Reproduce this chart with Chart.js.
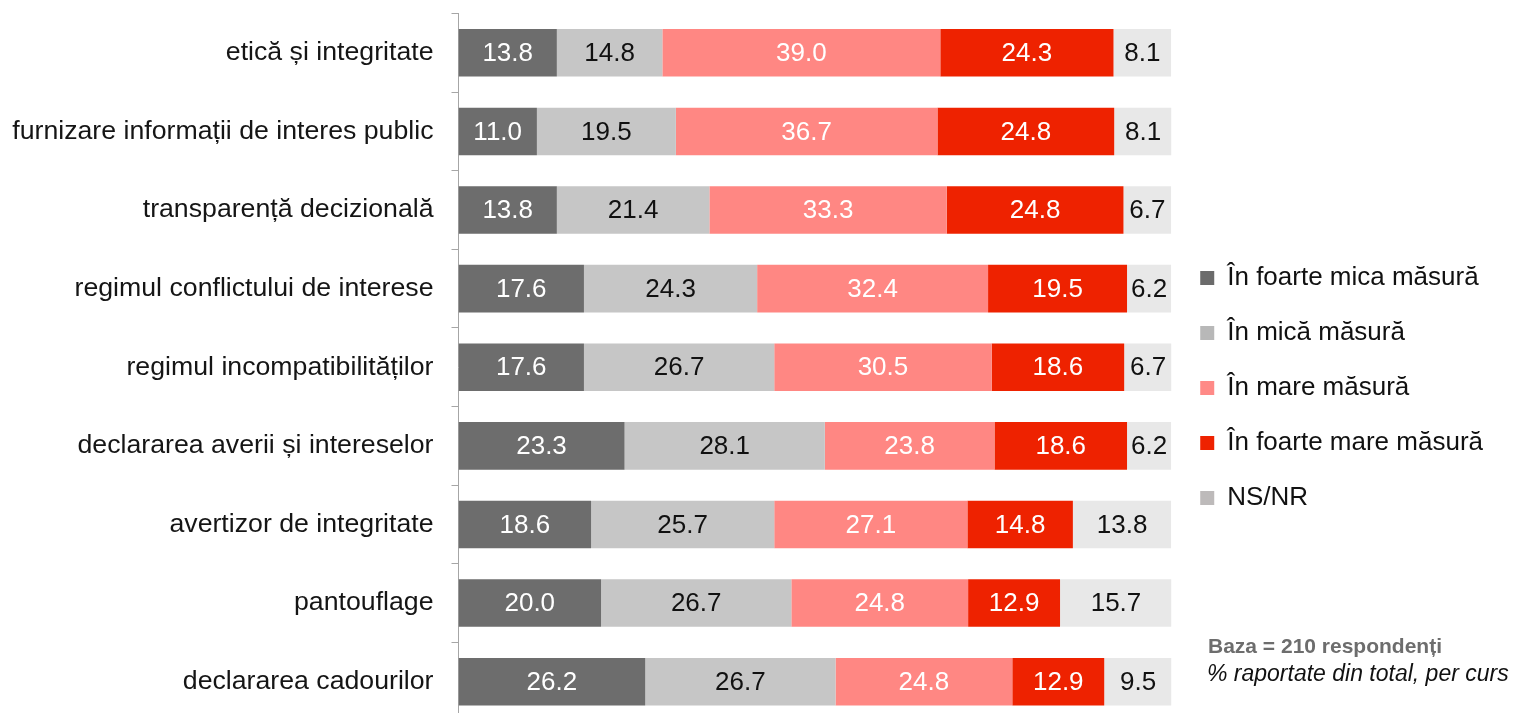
<!DOCTYPE html>
<html>
<head>
<meta charset="utf-8">
<script src="https://cdn.jsdelivr.net/npm/chart.js@4.4.0/dist/chart.umd.min.js"></script>
<style>
  body { margin: 0; background: #fff; overflow: hidden; }
</style>
</head>
<body>
<canvas id="mainChart" width="1519" height="721"></canvas>
<script>
// categories top to bottom
let categories = [
    "etică și integritate",
    "furnizare informații de interes public",
    "transparență decizională",
    "regimul conflictului de interese",
    "regimul incompatibilităților",
    "declararea averii și intereselor",
    "avertizor de integritate",
    "pantouflage",
    "declararea cadourilor"
];

let seriesNames = ["În foarte mica măsură", "În mică măsură", "În mare măsură", "În foarte mare măsură", "NS/NR"];

let veryLittle = [13.8, 11.0, 13.8, 17.6, 17.6, 23.3, 18.6, 20.0, 26.2];
let little     = [14.8, 19.5, 21.4, 24.3, 26.7, 28.1, 25.7, 26.7, 26.7];
let large      = [39.0, 36.7, 33.3, 32.4, 30.5, 23.8, 27.1, 24.8, 24.8];
let veryLarge  = [24.3, 24.8, 24.8, 19.5, 18.6, 18.6, 14.8, 12.9, 12.9];
let noAnswer   = [8.1, 8.1, 6.7, 6.2, 6.7, 6.2, 13.8, 15.7, 9.5];

let barColors    = ['#6d6d6d', '#c6c6c6', '#ff8783', '#ee2200', '#e8e8e8'];
let legendColors = ['#6b6b6b', '#b8b8b8', '#ff8a87', '#ee2200', '#bdbaba'];
let labelColors  = ['#ffffff', '#111111', '#ffffff', '#ffffff', '#111111'];

const FONT = "'Liberation Sans', Arial, sans-serif";

// writes the value in the middle of every segment
const valueLabels = {
    id: 'valueLabels',
    afterDatasetsDraw(chart) {
        const ctx = chart.ctx;
        ctx.save();
        ctx.font = "26px " + FONT;
        ctx.textAlign = 'center';
        ctx.textBaseline = 'middle';
        chart.data.datasets.forEach((ds, i) => {
            const meta = chart.getDatasetMeta(i);
            meta.data.forEach((bar, j) => {
                const p = bar.getProps(['x', 'y', 'base'], true);
                ctx.fillStyle = labelColors[i];
                ctx.fillText(ds.data[j].toFixed(1), (p.x + p.base) / 2, p.y + 1);
            });
        });
        ctx.restore();
    }
};

// notes under the legend
const notes = {
    id: 'notes',
    afterDraw(chart) {
        const ctx = chart.ctx;
        ctx.save();
        ctx.textAlign = 'left';
        ctx.textBaseline = 'alphabetic';
        ctx.font = "bold 21px " + FONT;
        ctx.fillStyle = '#6d6d6d';
        ctx.fillText("Baza = 210 respondenți", 1208, 653);
        ctx.font = "italic 23px " + FONT;
        ctx.fillStyle = '#111111';
        ctx.fillText("% raportate din total, per curs", 1207, 681);
        ctx.restore();
    }
};

let allSeries = [veryLittle, little, large, veryLarge, noAnswer];

const ctx = document.getElementById("mainChart");
let barChart = new Chart(ctx, {
    type: 'bar',
    data: {
        labels: categories,
        datasets: allSeries.map((vals, i) => ({
            label: seriesNames[i],
            data: vals,
            backgroundColor: barColors[i],
            borderWidth: 0,
            categoryPercentage: 1,
            barPercentage: 0.605
        }))
    },
    options: {
        indexAxis: 'y',
        responsive: false,
        animation: false,
        layout: {
            padding: { top: 13.5, right: 26, bottom: 0, left: 0 }
        },
        scales: {
            x: {
                stacked: true,
                min: 0,
                max: 100,
                display: false
            },
            y: {
                stacked: true,
                afterFit: function (scale) {
                    scale.width = 458.5;
                    // labels sit inside their bands, no extra room needed
                    scale.paddingTop = 0;
                    scale.paddingBottom = 0;
                },
                grid: {
                    display: true,
                    drawOnChartArea: false,
                    drawTicks: true,
                    tickLength: 7,
                    color: '#a6a6a6',
                    offset: true
                },
                border: {
                    display: true,
                    color: '#a6a6a6',
                    width: 1
                },
                ticks: {
                    padding: 18,
                    color: '#151515',
                    font: { family: FONT, size: 26.7 }
                }
            }
        },
        plugins: {
            tooltip: { enabled: false },
            legend: {
                position: 'right',
                align: 'center',
                title: {
                    display: true,
                    text: '',
                    padding: { top: 0, bottom: 27 }
                },
                labels: {
                    boxWidth: 14,
                    boxHeight: 14,
                    padding: 29,
                    color: '#111111',
                    font: { family: FONT, size: 26 },
                    generateLabels: function (chart) {
                        return chart.data.datasets.map((ds, i) => ({
                            text: ds.label,
                            fillStyle: legendColors[i],
                            strokeStyle: legendColors[i],
                            lineWidth: 0,
                            hidden: false,
                            datasetIndex: i,
                            fontColor: '#111111'
                        }));
                    }
                }
            }
        }
    },
    plugins: [valueLabels, notes]
});
</script>
</body>
</html>
